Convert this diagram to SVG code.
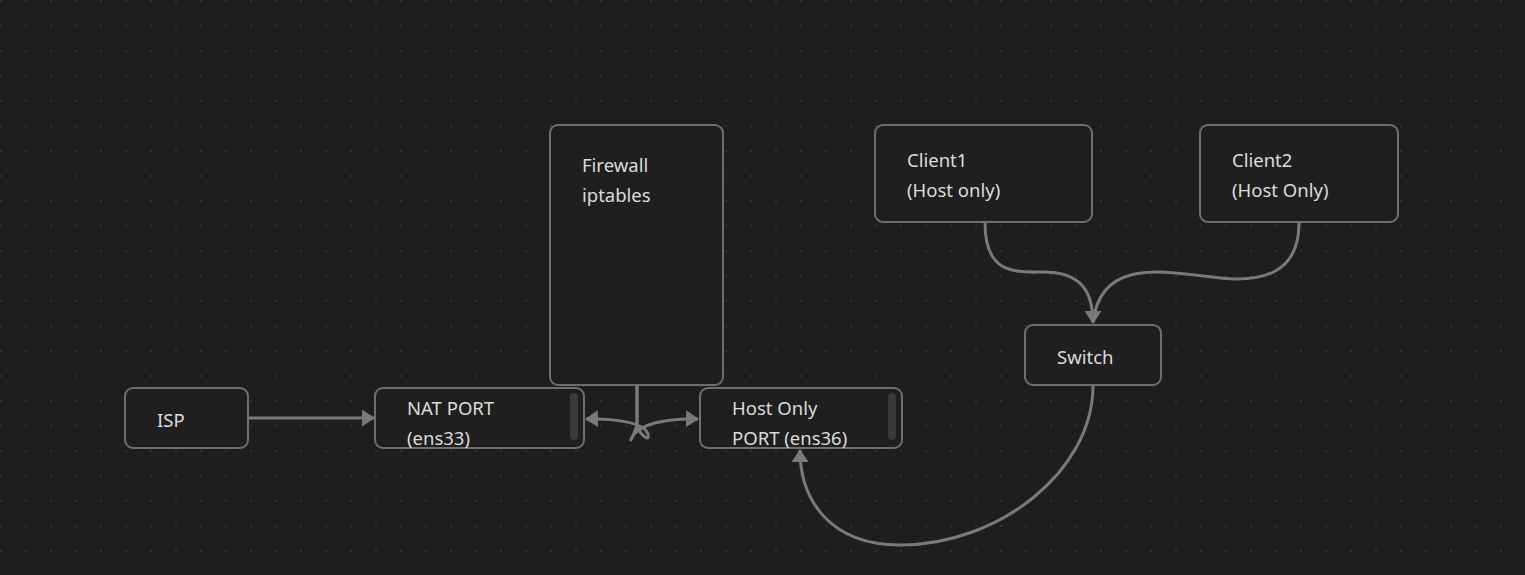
<svg xmlns="http://www.w3.org/2000/svg" width="1525" height="575" viewBox="0 0 1525 575">
<style>
.node rect.box{fill:#1f1f1f;stroke:#6f6f6f;stroke-width:2}
.node text{font-family:"Noto Sans","Open Sans","DejaVu Sans",sans-serif;font-size:18.5px;fill:#dcdcdc}
.sb{fill:#3a3a3a}
#connectors path,#connectors line{fill:none;stroke:#7a7a7a;stroke-width:3}
</style>
<defs>
<pattern id="dots" width="25" height="25" patternUnits="userSpaceOnUse">
<rect x="0" y="0" width="2" height="2" fill="#313131"/>
</pattern>
<marker id="arr" viewBox="0 0 13 17" refX="12" refY="8.5" markerWidth="13" markerHeight="17" orient="auto" markerUnits="userSpaceOnUse">
<path d="M0,0 L13,8.5 L0,17 Z" fill="#7a7a7a"/>
</marker>
</defs>
<rect width="1525" height="575" fill="#1e1e1e"/>
<rect width="1525" height="575" fill="url(#dots)"/>
<g id="connectors">
<line x1="249" y1="418" x2="374" y2="418" marker-end="url(#arr)"/>
<path d="M637,386 L637,425 C640,435 650,443 648,434 C645,424 620,418 586,419" marker-end="url(#arr)"/>
<path d="M637,386 L637,425 C635,433 628,446 632,437 C640,424 665,418 698,419" marker-end="url(#arr)"/>
<path d="M1093,386 C1093,470 1000,545 900,545 C830,545 800,500 800,450" marker-end="url(#arr)"/>
<path d="M985,223 C985,270 1010,273 1040,272 C1080,271 1093,290 1093,323" marker-end="url(#arr)"/>
<path d="M1299,223 C1299,275 1260,282 1220,278 C1170,273 1100,255 1093,323"/>
</g>
<g id="isp" class="node"><rect class="box" x="125" y="388" width="123" height="60" rx="8"/><text x="157" y="427">ISP</text></g>
<g id="nat" class="node"><rect class="box" x="375" y="388" width="209" height="60" rx="8"/><rect class="sb" x="570" y="393" width="8" height="47" rx="4"/><text x="407" y="415">NAT PORT</text><text x="407" y="445">(ens33)</text></g>
<g id="hostonly" class="node"><rect class="box" x="700" y="388" width="202" height="60" rx="8"/><rect class="sb" x="888" y="393" width="8" height="47" rx="4"/><text x="732" y="415">Host Only</text><text x="732" y="445">PORT (ens36)</text></g>
<g id="firewall" class="node"><rect class="box" x="550" y="125" width="173" height="260" rx="8"/><text x="582" y="172">Firewall</text><text x="582" y="202">iptables</text></g>
<g id="client1" class="node"><rect class="box" x="875" y="125" width="217" height="97" rx="8"/><text x="907" y="167">Client1</text><text x="907" y="197">(Host only)</text></g>
<g id="client2" class="node"><rect class="box" x="1200" y="125" width="198" height="97" rx="8"/><text x="1232" y="167">Client2</text><text x="1232" y="197">(Host Only)</text></g>
<g id="switch" class="node"><rect class="box" x="1025" y="325" width="136" height="60" rx="8"/><text x="1057" y="364">Switch</text></g>
</svg>
